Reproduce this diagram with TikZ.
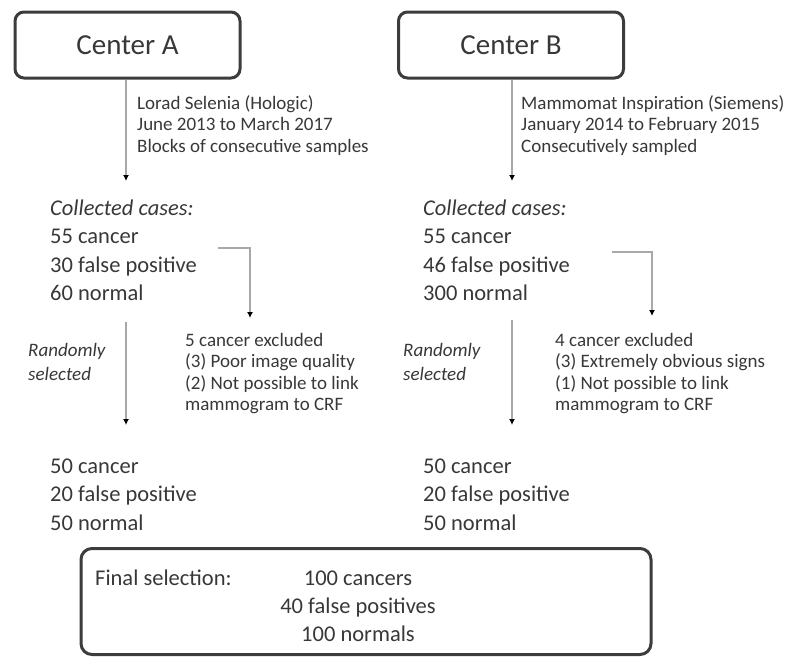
\documentclass[tikz,border=0pt]{standalone}
\usepackage{fontspec}
\setmainfont{Carlito}
\usetikzlibrary{arrows.meta}
\definecolor{txt}{HTML}{383838}
\definecolor{ln}{HTML}{A8A8A8}
\definecolor{bd}{HTML}{3C3C3C}
\begin{document}
\begin{tikzpicture}[x=1pt,y=-1pt,
  centerbox/.style={draw=bd,line width=3pt,rounded corners=9pt,minimum width=225pt,minimum height=66pt,inner sep=0pt,font=\fontsize{29}{34}\selectfont,text=txt},
  annot/.style={anchor=base west,align=left,inner sep=0pt,font=\fontsize{19}{21.5}\selectfont,text=txt},
  maintext/.style={anchor=base west,align=left,inner sep=0pt,font=\fontsize{22.5}{28.5}\selectfont,text=txt},
  rndtext/.style={anchor=base west,align=left,inner sep=0pt,font=\fontsize{19}{24}\selectfont\itshape,text=txt},
  conn/.style={draw=ln,line width=2pt,-{Latex[color=black,length=6pt,width=6pt]}},
]
\useasboundingbox (0,0) rectangle (811,659);

% Center boxes
\node[centerbox] (ca) at (127.5,45) {Center A};
\node[centerbox] (cb) at (511,45) {Center B};

% annotations (anchored at the baseline of the last line)
\node[annot] (annA) at (137,152) {Lorad Selenia (Hologic)\\June 2013 to March 2017\\Blocks of consecutive samples};
\node[annot] (annB) at (521,152) {Mammomat Inspiration (Siemens)\\January 2014 to February 2015\\Consecutively sampled};

% collected cases
\node[maintext] (colA) at (50,300.5) {\textit{Collected cases:}\\55 cancer\\30 false positive\\60 normal};
\node[maintext] (colB) at (423,300.5) {\textit{Collected cases:}\\55 cancer\\46 false positive\\300 normal};

% exclusions
\node[annot] (exA) at (185,410.5) {5 cancer excluded\\(3) Poor image quality\\(2) Not possible to link\\mammogram to CRF};
\node[annot] (exB) at (555,410.5) {4 cancer excluded\\(3) Extremely obvious signs\\(1) Not possible to link\\mammogram to CRF};

% randomly selected
\node[rndtext] (rA) at (28,380) {Randomly\\selected};
\node[rndtext] (rB) at (403,380) {Randomly\\selected};

% selected
\node[maintext] (selA) at (50,530) {50 cancer\\20 false positive\\50 normal};
\node[maintext] (selB) at (423,530) {50 cancer\\20 false positive\\50 normal};

% final box
\node[draw=bd,line width=3pt,rounded corners=11pt,minimum width=570pt,minimum height=106pt,inner sep=0pt] (fin) at (366,601.5) {};
\node[maintext] (finlab) at (95,585) {Final selection:};
\node[anchor=base,align=center,inner sep=0pt,font=\fontsize{22.5}{28}\selectfont,text=txt] (fincnt) at (358,641) {100 cancers\\40 false positives\\100 normals};

% connectors
\coordinate (a1) at (126,181);
\coordinate (b1) at (512,181);
\draw[conn] (ca.south -| a1) -- (a1);
\draw[conn] (cb.south -| b1) -- (b1);

\coordinate (ea0) at (218,248);
\coordinate (ea1) at (250,318);
\draw[conn] (ea0) -| (ea1);
\coordinate (eb0) at (612,252);
\coordinate (eb1) at (652,316);
\draw[conn] (eb0) -| (eb1);

\coordinate (ra0) at (126,322);
\coordinate (ra1) at (126,425);
\draw[conn] (ra0) -- (ra1);
\coordinate (rb0) at (512,320);
\coordinate (rb1) at (512,425);
\draw[conn] (rb0) -- (rb1);
\end{tikzpicture}
\end{document}
